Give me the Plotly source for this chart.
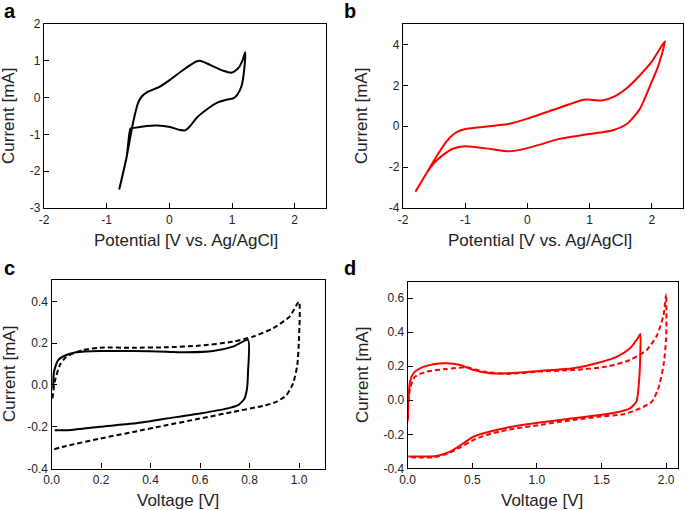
import plotly.graph_objects as go

W, H = 685, 510

# Panel a (black CV)
a_x = [-0.80, -0.68, -0.58, -0.50, -0.44, -0.34, -0.15, 0.01, 0.22, 0.43, 0.49, 0.65, 0.86, 1.00, 1.10, 1.17, 1.21,
       1.20, 1.15, 1.08, 1.02, 0.91, 0.75, 0.59, 0.43, 0.33, 0.25, 0.17, 0.01, -0.20, -0.36, -0.58, -0.62, -0.68, -0.80]
a_y = [-2.50, -1.60, -0.69, -0.15, 0.03, 0.16, 0.30, 0.48, 0.75, 0.98, 1.00, 0.89, 0.73, 0.68, 0.80, 1.02, 1.23,
       0.84, 0.30, 0.07, -0.02, -0.06, -0.15, -0.33, -0.56, -0.78, -0.89, -0.88, -0.80, -0.76, -0.77, -0.83, -0.84, -1.60, -2.50]

# Panel b (red CV)
b_x = [-1.80, -1.62, -1.46, -1.30, -1.16, -1.00, -0.80, -0.50, -0.30, 0.00, 0.50, 0.90, 1.00, 1.20, 1.40, 1.60, 1.80, 2.00, 2.21,
       2.10, 2.00, 1.90, 1.80, 1.60, 1.40, 1.20, 1.00, 0.50, 0.20, 0.00, -0.30, -0.60, -1.00, -1.20, -1.35, -1.50, -1.62, -1.80]
b_y = [-3.21, -2.29, -1.47, -0.74, -0.33, -0.14, -0.06, 0.04, 0.11, 0.37, 0.89, 1.30, 1.30, 1.26, 1.46, 1.87, 2.47, 3.17, 4.16,
       2.93, 2.19, 1.46, 0.81, 0.12, -0.17, -0.30, -0.38, -0.63, -0.90, -1.07, -1.23, -1.11, -0.98, -1.10, -1.39, -1.80, -2.29, -3.21]

# Panel c solid (0-0.8 V)
c1_x = [0.007, 0.010, 0.027, 0.06, 0.10, 0.195, 0.33, 0.464, 0.545, 0.653, 0.733, 0.794,
        0.794, 0.790, 0.780, 0.754, 0.72, 0.60, 0.464, 0.33, 0.195, 0.06, 0.013]
c1_y = [-0.017, 0.063, 0.119, 0.143, 0.156, 0.162, 0.162, 0.159, 0.156, 0.162, 0.183, 0.215,
        0.063, -0.017, -0.065, -0.097, -0.11, -0.137, -0.161, -0.185, -0.200, -0.217, -0.217]
# Panel c dashed (0-1.0 V)
c2_x = [0.004, 0.013, 0.034, 0.06, 0.128, 0.195, 0.33, 0.464, 0.60, 0.733, 0.814, 0.895, 0.962, 1.000,
        1.000, 0.993, 0.976, 0.949, 0.908, 0.855, 0.733, 0.60, 0.464, 0.33, 0.195, 0.06, 0.007]
c2_y = [-0.065, 0.015, 0.095, 0.135, 0.167, 0.178, 0.178, 0.180, 0.188, 0.207, 0.231, 0.271, 0.327, 0.398,
        0.223, 0.095, 0.007, -0.049, -0.081, -0.100, -0.129, -0.161, -0.193, -0.225, -0.257, -0.292, -0.309]

# Panel d solid (0-1.8 V)
d1_x = [0.000, 0.005, 0.018, 0.044, 0.095, 0.20, 0.30, 0.405, 0.51, 0.637, 0.766, 1.02, 1.28, 1.49, 1.62, 1.72, 1.78, 1.80,
        1.80, 1.79, 1.77, 1.72, 1.64, 1.49, 1.28, 1.02, 0.766, 0.586, 0.51, 0.43, 0.328, 0.225, 0.12, 0.005]
d1_y = [-0.125, -0.008, 0.110, 0.159, 0.188, 0.212, 0.218, 0.208, 0.178, 0.159, 0.159, 0.173, 0.188, 0.224, 0.257, 0.306, 0.365, 0.390,
        0.267, 0.110, -0.008, -0.047, -0.067, -0.086, -0.106, -0.131, -0.161, -0.194, -0.214, -0.253, -0.302, -0.327, -0.331, -0.331]
# Panel d dashed (0-2.0 V)
d2_x = [0.000, 0.018, 0.057, 0.147, 0.30, 0.457, 0.586, 0.766, 1.02, 1.28, 1.54, 1.72, 1.85, 1.93, 1.98, 2.00,
        2.00, 1.98, 1.94, 1.89, 1.80, 1.67, 1.49, 1.28, 1.02, 0.766, 0.61, 0.51, 0.405, 0.30, 0.20, 0.095, 0.005]
d2_y = [-0.106, 0.071, 0.139, 0.169, 0.184, 0.194, 0.169, 0.155, 0.169, 0.178, 0.198, 0.237, 0.296, 0.384, 0.502, 0.624,
        0.365, 0.208, 0.071, -0.008, -0.047, -0.082, -0.096, -0.116, -0.145, -0.175, -0.204, -0.233, -0.278, -0.316, -0.335, -0.337, -0.335]

FONT = "Liberation Sans, Arial, sans-serif"

def px_x(x0, x1):
    return [x0 / W, x1 / W]

def px_y(top, bottom):
    return [1 - bottom / H, 1 - top / H]

fig = go.Figure()

panels = [
    ("x", "y", px_x(44, 326), px_y(24, 208), [-2, 2.5], [-3, 2],
     ([-2, -1, 0, 1, 2], ["-2", "-1", "0", "1", "2"]), ([-3, -2, -1, 0, 1, 2], ["-3", "-2", "-1", "0", "1", "2"])),
    ("x2", "y2", px_x(403, 683), px_y(24, 208), [-2, 2.5], [-4, 5],
     ([-2, -1, 0, 1, 2], ["-2", "-1", "0", "1", "2"]), ([-4, -2, 0, 2, 4], ["-4", "-2", "0", "2", "4"])),
    ("x3", "y3", px_x(51.5, 325), px_y(280, 468.5), [0, 1.105], [-0.4, 0.502],
     ([0, 0.2, 0.4, 0.6, 0.8, 1.0], ["0.0", "0.2", "0.4", "0.6", "0.8", "1.0"]),
     ([-0.4, -0.2, 0, 0.2, 0.4], ["-0.4", "-0.2", "0.0", "0.2", "0.4"])),
    ("x4", "y4", px_x(407.7, 678.3), px_y(282.3, 468.3), [0, 2.094], [-0.4, 0.694],
     ([0, 0.5, 1.0, 1.5, 2.0], ["0.0", "0.5", "1.0", "1.5", "2.0"]),
     ([-0.4, -0.2, 0, 0.2, 0.4, 0.6], ["-0.4", "-0.2", "0.0", "0.2", "0.4", "0.6"])),
]

curves = [
    ("x", "y", a_x, a_y, "black", "solid"),
    ("x2", "y2", b_x, b_y, "#ff0000", "solid"),
    ("x3", "y3", c1_x, c1_y, "black", "solid"),
    ("x3", "y3", c2_x, c2_y, "black", "5px,3px"),
    ("x4", "y4", d1_x, d1_y, "#ff0000", "solid"),
    ("x4", "y4", d2_x, d2_y, "#ff0000", "5px,3px"),
]
for xa, ya, xs, ys, col, dash in curves:
    fig.add_trace(go.Scatter(x=xs, y=ys, xaxis=xa, yaxis=ya, mode="lines",
                             line=dict(color=col, width=2, dash=dash, shape="spline", smoothing=0.6),
                             showlegend=False, hoverinfo="skip"))

layout = {}
for xa, ya, xd, yd, xr, yr, xt, yt in panels:
    xkey = "xaxis" + xa[1:]
    ykey = "yaxis" + ya[1:]
    common = dict(showline=True, linecolor="black", linewidth=1.3, mirror=True, ticks="inside",
                  ticklen=5, tickwidth=1.3, tickcolor="black", showgrid=False, zeroline=False,
                  tickfont=dict(family=FONT, size=12, color="#222"), fixedrange=True, automargin=False)
    layout[xkey] = dict(domain=xd, range=xr, anchor=ya, tickvals=xt[0], ticktext=xt[1], **common)
    layout[ykey] = dict(domain=yd, range=yr, anchor=xa, tickvals=yt[0], ticktext=yt[1], **common)

fig.update_layout(width=W, height=H, margin=dict(l=0, r=0, t=0, b=0, pad=0, autoexpand=False),
                  plot_bgcolor="white", paper_bgcolor="white",
                  font=dict(family=FONT, color="#222"), **layout)

def ann(text, x, y, size=17, angle=0, bold=False, xanchor="center"):
    fig.add_annotation(text=f"<b>{text}</b>" if bold else text, xref="paper", yref="paper",
                       x=x / W, y=1 - y / H, showarrow=False, textangle=angle,
                       xanchor=xanchor, yanchor="middle",
                       font=dict(family=FONT, size=size, color="black" if bold else "#222"))

ann("a", 2, 11, size=20, bold=True, xanchor="left")
ann("b", 342, 11, size=20, bold=True, xanchor="left")
ann("c", 2, 268, size=20, bold=True, xanchor="left")
ann("d", 342, 268, size=20, bold=True, xanchor="left")
ann("Potential [V vs. Ag/AgCl]", 186, 240)
ann("Potential [V vs. Ag/AgCl]", 540, 240)
ann("Voltage [V]", 178, 500)
ann("Voltage [V]", 542, 500)
ann("Current [mA]", 9, 116, angle=-90)
ann("Current [mA]", 362, 116, angle=-90)
ann("Current [mA]", 9, 374, angle=-90)
ann("Current [mA]", 362, 375, angle=-90)

fig.write_html("out.html", config={"displayModeBar": False},
               post_script="document.body.style.margin='0';document.body.style.padding='0';")
